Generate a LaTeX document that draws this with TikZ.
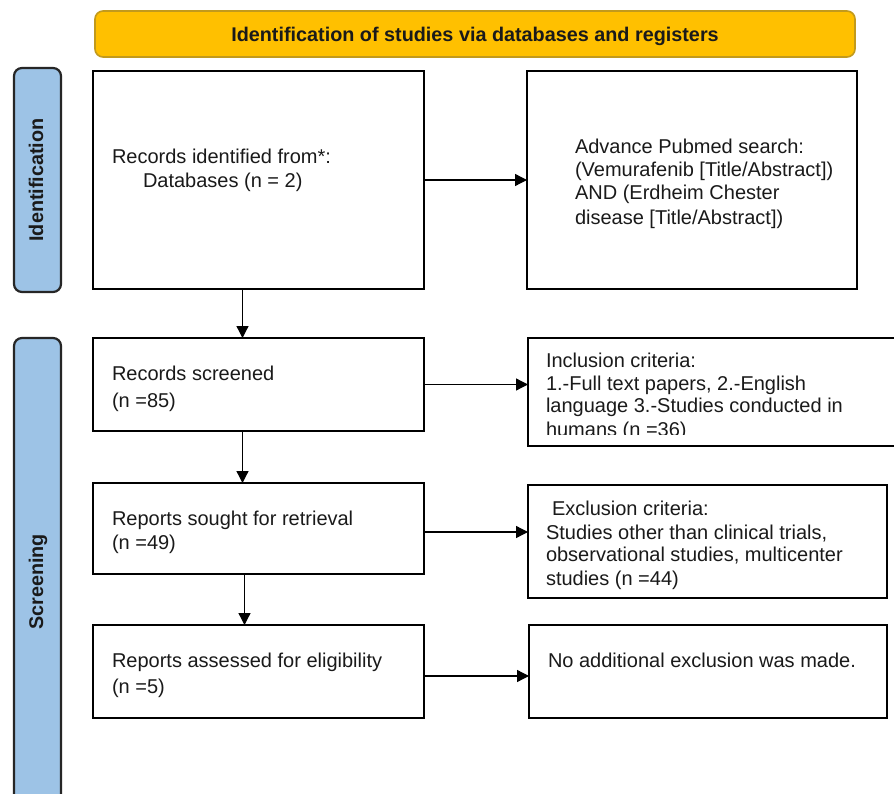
\documentclass[tikz,border=0pt]{standalone}
\usepackage{fontspec}
\setmainfont{Liberation Sans}
\usetikzlibrary{arrows.meta}
\definecolor{bannerfill}{HTML}{FFC000}
\definecolor{bannerline}{HTML}{C29A1C}
\definecolor{barfill}{HTML}{9DC3E6}
\definecolor{txt}{HTML}{1A1A1A}
\begin{document}
\begin{tikzpicture}[x=1pt,y=-1pt,
  every node/.style={inner sep=0pt,outer sep=0pt},
  box/.style={draw=black,line width=2.4pt,fill=white,anchor=north west},
  txtline/.style={anchor=base west,text=txt,font=\fontsize{20}{23}\selectfont},
  bartxt/.style={anchor=base,rotate=90,text=txt,font=\bfseries\fontsize{19.8}{23}\selectfont},
  arr/.style={draw=black,line width=1.3pt,-{Triangle[length=12pt,width=12pt]}}
]
\useasboundingbox (0,0) rectangle (894,794);
\clip (0,0) rectangle (894,794);
\fill[white] (0,0) rectangle (894,794);

% banner
\node[draw=bannerline,line width=1.6pt,fill=bannerfill,rounded corners=8pt,
      minimum width=760pt,minimum height=46pt,anchor=north west] (banner) at (95,11) {};
\node[anchor=base,text=txt,font=\bfseries\fontsize{19.8}{23}\selectfont] (bannertxt) at (475,42)
  {Identification of studies via databases and registers};

% side bars
\node[draw=black!85,line width=2.2pt,fill=barfill,rounded corners=8pt,
      minimum width=47pt,minimum height=224pt,anchor=north west] (idbar) at (14,68) {};
\node[bartxt] (idtxt) at (43,180) {Identification};
\node[draw=black!85,line width=2.2pt,fill=barfill,rounded corners=8pt,
      minimum width=47pt,minimum height=520pt,anchor=north west] (scbar) at (14,338) {};
\node[bartxt] (sctxt) at (43,582) {Screening};

% boxes
\node[box,minimum width=331pt,minimum height=218pt] (b1) at (93,71) {};
\node[box,minimum width=330pt,minimum height=218pt] (b2) at (527,71) {};
\node[box,minimum width=331pt,minimum height=93pt] (b3) at (93,338) {};
\node[box,minimum width=390pt,minimum height=108pt] (b4) at (528,338) {};
\node[box,minimum width=331pt,minimum height=91pt] (b5) at (93,483) {};
\node[box,minimum width=359pt,minimum height=113pt] (b6) at (528,485) {};
\node[box,minimum width=331pt,minimum height=93pt] (b7) at (93,625) {};
\node[box,minimum width=358pt,minimum height=93pt] (b8) at (529,625) {};

% texts
\node[txtline] (t1a) at (112,164) {Records identified from*:};
\node[txtline] (t1b) at (143,188) {Databases (n = 2)};

\node[txtline] (t2a) at (575,154) {Advance Pubmed search:};
\node[txtline] (t2b) at (575,177) {(Vemurafenib [Title/Abstract])};
\node[txtline] (t2c) at (575,200) {AND (Erdheim Chester};
\node[txtline] (t2d) at (575,225) {disease [Title/Abstract])};

\node[txtline] (t3a) at (112,380) {Records screened};
\node[txtline] (t3b) at (112,407) {(n =85)};

\node[txtline] (t4a) at (546,367) {Inclusion criteria:};
\node[txtline] (t4b) at (546,390) {1.-Full text papers, 2.-English};
\node[txtline] (t4c) at (546,412) {language 3.-Studies conducted in};
\begin{scope}
  \clip (528,338) rectangle (900,434.5);
  \node[txtline] (t4d) at (546,436) {humans (n =36)};
\end{scope}

\node[txtline] (t5a) at (112,525) {Reports sought for retrieval};
\node[txtline] (t5b) at (112,549) {(n =49)};

\node[txtline] (t6a) at (552,515) {Exclusion criteria:};
\node[txtline] (t6b) at (546,539) {Studies other than clinical trials,};
\node[txtline] (t6c) at (546,561) {observational studies, multicenter};
\node[txtline] (t6d) at (546,585) {studies (n =44)};

\node[txtline] (t7a) at (112,667) {Reports assessed for eligibility};
\node[txtline] (t7b) at (112,693) {(n =5)};

\node[txtline] (t8a) at (548,667) {No additional exclusion was made.};

% connectors
\draw[arr] (b1.east) -- (b2.west);
\draw[arr] ([xshift=-16pt]b1.south) -- ([xshift=-16pt]b1.south |- b3.north);
\draw[arr] (b3.east) -- (b3.east -| b4.west);
\draw[arr] ([xshift=-16pt]b3.south) -- ([xshift=-16pt]b3.south |- b5.north);
\draw[arr] ([yshift=-3.5pt]b5.east) -- ([yshift=-3.5pt]b5.east -| b6.west);
\draw[arr] ([xshift=-14pt]b5.south) -- ([xshift=-14pt]b5.south |- b7.north);
\draw[arr] ([yshift=-4.5pt]b7.east) -- ([yshift=-4.5pt]b7.east -| b8.west);
\end{tikzpicture}
\end{document}
